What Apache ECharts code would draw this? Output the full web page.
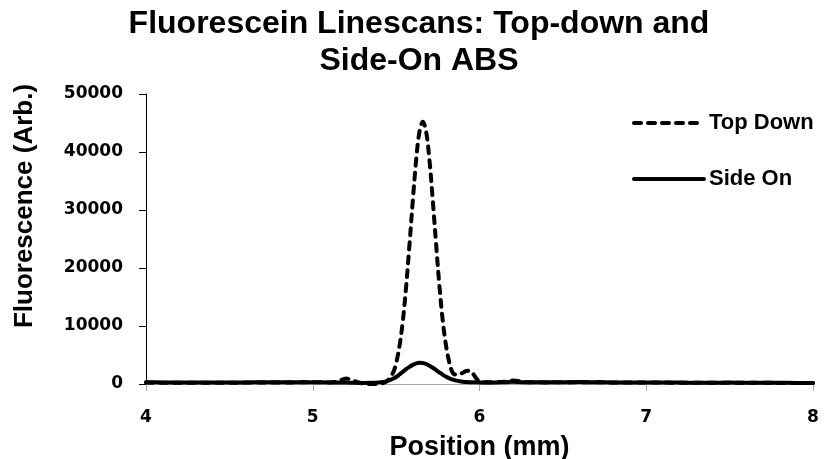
<!DOCTYPE html>
<html>
<head>
<meta charset="utf-8">
<script src="https://cdn.jsdelivr.net/npm/echarts@6/dist/echarts.min.js"></script>
<style>
  html, body { margin: 0; padding: 0; background: #fff; }
  #chart { width: 825px; height: 459px; }
</style>
</head>
<body>
<div id="chart"></div>
<script>
// Linescan sample positions (mm)
const positions = [
  4.0, 4.1, 4.2, 4.3, 4.4, 4.5, 4.6, 4.7, 4.8, 4.9,
  5.0, 5.1, 5.15, 5.2, 5.25, 5.3, 5.35, 5.4, 5.44, 5.48,
  5.5, 5.52, 5.54, 5.56, 5.58, 5.6, 5.62, 5.64, 5.66, 5.68,
  5.7, 5.72, 5.74, 5.76, 5.78, 5.8, 5.82, 5.84, 5.86, 5.88,
  5.9, 5.92, 5.94, 5.96, 5.98, 6.0, 6.05, 6.1, 6.15, 6.2,
  6.25, 6.3, 6.4, 6.5, 6.6, 6.7, 6.8, 6.9, 7.0, 7.1,
  7.2, 7.3, 7.4, 7.5, 7.6, 7.7, 7.8, 7.9, 8.0
];

// Fluorescence, top-down view
const topDown = [
  250, 220, 200, 210, 230, 220, 240, 250, 260, 280,
  300, 280, 450, 950, 500, 100, 0, 60, 380, 1850,
  3600, 6500, 10800, 16800, 24000, 31600, 38600, 43500, 45200, 43500,
  38600, 31600, 24000, 16800, 10800, 6500, 3600, 1900, 1600, 1700,
  1950, 2250, 2300, 1800, 1000, 450, 300, 280, 380, 600,
  420, 300, 280, 290, 320, 290, 270, 260, 250, 240,
  230, 220, 220, 230, 220, 210, 190, 180, 170
];

// Fluorescence, side-on view
const sideOn = [
  300, 280, 270, 260, 260, 270, 280, 290, 300, 310,
  300, 280, 260, 250, 200, 180, 200, 280, 450, 900,
  1200, 1650, 2100, 2550, 2950, 3300, 3550, 3650, 3620, 3450,
  3150, 2800, 2400, 1980, 1580, 1240, 960, 740, 580, 470,
  400, 350, 320, 300, 290, 280, 270, 280, 300, 380,
  320, 300, 290, 300, 330, 300, 280, 270, 260, 250,
  240, 230, 230, 240, 230, 220, 200, 190, 180
];

const xTicks = { min: 4, max: 8, step: 1 };
const yTicks = { min: 0, max: 50000, step: 10000 };

const pairs = (ys) => positions.map((x, i) => [x, ys[i]]);

const chart = echarts.init(document.getElementById('chart'), null, { renderer: 'canvas' });

const tickFont = { fontFamily: 'DejaVu Sans', fontWeight: 'bold', fontSize: 17, color: '#000' };
const labelFontFamily = 'Liberation Sans';

chart.setOption({
  animation: false,
  backgroundColor: '#fff',
  grid: { left: 146, right: 12, top: 94, bottom: 75, containLabel: false, outerBoundsMode: 'none' },
  graphic: [
    {
      type: 'text', x: 419, y: 6,
      style: {
        text: 'Fluorescein Linescans: Top-down and\nSide-On ABS',
        textAlign: 'center',
        font: 'bold 32px "Liberation Sans"',
        lineHeight: 37,
        fill: '#000'
      }
    },
    {
      type: 'text', x: 25, y: 206, rotation: Math.PI / 2,
      style: {
        text: 'Fluorescence (Arb.)',
        textAlign: 'center',
        textVerticalAlign: 'middle',
        font: 'bold 26px "Liberation Sans"',
        fill: '#000'
      }
    }
  ],
  legend: {
    orient: 'vertical',
    left: 632,
    top: 112,
    padding: 0,
    itemWidth: 70,
    itemHeight: 24,
    itemGap: 34,
    itemStyle: { opacity: 0 },
    lineStyle: { width: 4 },
    textStyle: { fontFamily: labelFontFamily, fontWeight: 'bold', fontSize: 22, color: '#000' },
    data: ['Top Down', 'Side On']
  },
  xAxis: {
    type: 'value',
    min: xTicks.min, max: xTicks.max, interval: xTicks.step,
    name: 'Position (mm)',
    nameLocation: 'middle',
    nameGap: 50,
    nameTextStyle: { fontFamily: labelFontFamily, fontWeight: 'bold', fontSize: 27, color: '#000' },
    axisLine: { show: true, onZero: false, lineStyle: { color: '#a6a6a6', width: 1 } },
    axisTick: { show: true, inside: false, length: 7, lineStyle: { color: '#a6a6a6' } },
    axisLabel: Object.assign({ margin: 25 }, tickFont),
    splitLine: { show: false }
  },
  yAxis: {
    type: 'value',
    min: yTicks.min, max: yTicks.max, interval: yTicks.step,
    axisLine: { show: true, lineStyle: { color: '#000', width: 1 } },
    axisTick: { show: true, inside: false, length: 7, lineStyle: { color: '#000' } },
    axisLabel: Object.assign({ margin: 23, formatter: (v) => String(v) }, tickFont),
    splitLine: { show: false }
  },
  series: [
    {
      name: 'Top Down',
      type: 'line',
      data: pairs(topDown),
      smooth: 0.35,
      symbol: 'none',
      clip: false,
      lineStyle: { color: '#000', width: 4, type: [7, 7], cap: 'round', join: 'round' },
      itemStyle: { color: '#000' }
    },
    {
      name: 'Side On',
      type: 'line',
      data: pairs(sideOn),
      smooth: 0.35,
      symbol: 'none',
      clip: false,
      lineStyle: { color: '#000', width: 4, type: 'solid', cap: 'round', join: 'round' },
      itemStyle: { color: '#000' }
    }
  ]
});
</script>
</body>
</html>
